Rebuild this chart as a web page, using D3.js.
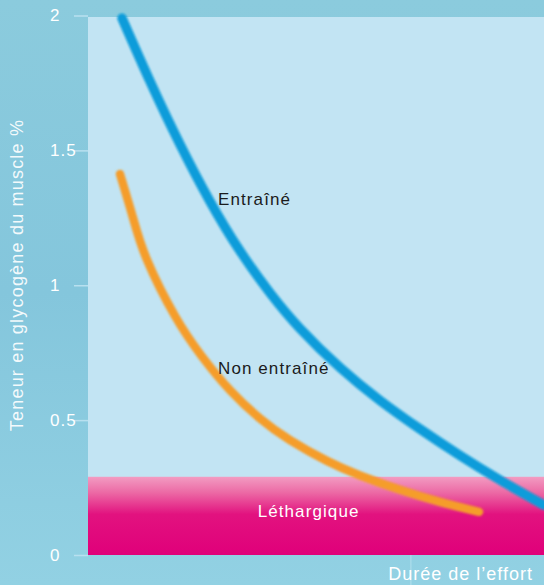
<!DOCTYPE html>
<html>
<head>
<meta charset="utf-8">
<script src="https://cdn.jsdelivr.net/npm/d3@7"></script>
<style>
  html, body { margin: 0; padding: 0; background: #8dcce0; }
  svg { display: block; }
  text { font-family: "Liberation Sans", Arial, sans-serif; }
</style>
</head>
<body>
<svg id="chart" width="544" height="585"></svg>
<script>
// Effort duration (relative units) and muscle glycogen content (%)
const durationTrained   = [7.46, 13.6, 20.18, 26.75, 33.33, 39.91, 46.49, 55.26, 64.04, 72.81, 81.58, 90.35, 100];
const glycogenTrained   = [1.99, 1.756, 1.522, 1.311, 1.127, 0.972, 0.840, 0.695, 0.573, 0.467, 0.369, 0.278, 0.185];
const durationUntrained = [7.02, 9.87, 12.94, 19.08, 25.0, 31.14, 37.72, 44.3, 52.41, 59.65, 68.42, 77.19, 85.75];
const glycogenUntrained = [1.412, 1.250, 1.094, 0.886, 0.736, 0.611, 0.506, 0.426, 0.349, 0.295, 0.242, 0.197, 0.160];
const lethargyThreshold = 0.29;
const yTicks = [0, 0.5, 1, 1.5, 2];
const yTickLabels = ["0", "0.5", "1", "1.5", "2"];
const seriesNames = ["Entraîné", "Non entraîné"];
const zoneName = "Léthargique";
const xTitle = "Durée de l’effort";
const yTitle = "Teneur en glycogène du muscle %";

const svg = d3.select("#chart");
const W = 544, H = 585;
const mLeft = 88, mRight = 544, mTop = 17, mBottom = 555;

const x = d3.scaleLinear().domain([0, 100]).range([mLeft, mRight]);
const y = d3.scaleLinear().domain([0, 2]).range([mBottom, 15.5]);

const defs = svg.append("defs");
const bg = defs.append("linearGradient").attr("id", "bg").attr("x1", 0).attr("x2", 0).attr("y1", 0).attr("y2", 1);
bg.append("stop").attr("offset", "0%").attr("stop-color", "#8bcbdd");
bg.append("stop").attr("offset", "50%").attr("stop-color", "#84c6dc");
bg.append("stop").attr("offset", "100%").attr("stop-color", "#92d1e3");

const pink = defs.append("linearGradient").attr("id", "pink").attr("x1", 0).attr("x2", 0).attr("y1", 0).attr("y2", 1);
pink.append("stop").attr("offset", "0%").attr("stop-color", "#f29cc2");
pink.append("stop").attr("offset", "20%").attr("stop-color", "#ec6aa5");
pink.append("stop").attr("offset", "48%").attr("stop-color", "#e2127f");
pink.append("stop").attr("offset", "100%").attr("stop-color", "#e0007a");

const soft = defs.append("filter").attr("id", "soft").attr("x", "-5%").attr("y", "-5%").attr("width", "110%").attr("height", "110%");
soft.append("feGaussianBlur").attr("stdDeviation", 0.8);

defs.append("clipPath").attr("id", "clip")
  .append("rect").attr("x", mLeft).attr("y", 0).attr("width", mRight - mLeft).attr("height", mBottom);

// outer frame
svg.append("rect").attr("width", W).attr("height", H).attr("fill", "url(#bg)");

// plotting area
svg.append("rect")
  .attr("x", mLeft).attr("y", mTop)
  .attr("width", mRight - mLeft).attr("height", mBottom - mTop)
  .attr("fill", "#c2e4f3");

// lethargy zone
svg.append("rect")
  .attr("x", x(0)).attr("y", y(lethargyThreshold))
  .attr("width", x(100) - x(0)).attr("height", y(0) - y(lethargyThreshold))
  .attr("fill", "url(#pink)");

svg.append("text")
  .attr("x", x(37.2)).attr("y", 517)
  .attr("fill", "#ffffff")
  .attr("font-size", 17).attr("letter-spacing", 1.1)
  .text(zoneName);

// y axis
const yAxis = d3.axisLeft(y)
  .tickValues(yTicks)
  .tickFormat((d, i) => yTickLabels[i])
  .tickSize(14)
  .tickPadding(0);

const gy = svg.append("g").attr("transform", `translate(${mLeft},0)`).call(yAxis);
gy.select(".domain").remove();
gy.selectAll(".tick line").attr("stroke", "#b8e0ef").attr("stroke-width", 1.5);
gy.selectAll(".tick text")
  .attr("x", 50 - mLeft).attr("dy", "0.3em")
  .attr("text-anchor", "start")
  .attr("fill", "#ffffff")
  .attr("font-size", 17).attr("letter-spacing", 1)
  .style("font-family", "'Liberation Sans', Arial, sans-serif");

svg.append("text")
  .attr("transform", "translate(23,275) rotate(-90)")
  .attr("text-anchor", "middle")
  .attr("fill", "#ffffff").attr("fill-opacity", 0.92)
  .attr("font-size", 18).attr("letter-spacing", 1.2)
  .text(yTitle);

// x axis title
svg.append("line")
  .attr("x1", x(70.8)).attr("x2", x(70.8))
  .attr("y1", mBottom).attr("y2", H)
  .attr("stroke", "#b6e1ee").attr("stroke-width", 1.5).attr("opacity", 0.6);

svg.append("text")
  .attr("x", 533).attr("y", 580)
  .attr("text-anchor", "end")
  .attr("fill", "#ffffff")
  .attr("font-size", 18).attr("letter-spacing", 1)
  .text(xTitle);

// curves
const line = d3.line()
  .x(d => x(d[0]))
  .y(d => y(d[1]))
  .curve(d3.curveNatural);

const curves = svg.append("g").attr("clip-path", "url(#clip)");

curves.append("path")
  .datum(d3.zip(durationUntrained, glycogenUntrained))
  .attr("d", line)
  .attr("fill", "none")
  .attr("stroke", "#f59d2a")
  .attr("stroke-width", 8.5)
  .attr("stroke-linecap", "round")
  .attr("filter", "url(#soft)");

curves.append("path")
  .datum(d3.zip(durationTrained, glycogenTrained))
  .attr("d", line)
  .attr("fill", "none")
  .attr("stroke", "#0b9cda")
  .attr("stroke-width", 9.5)
  .attr("stroke-linecap", "round")
  .attr("filter", "url(#soft)");

// series labels
svg.append("text")
  .attr("x", 218).attr("y", 205)
  .attr("fill", "#1b1b1b")
  .attr("font-size", 17).attr("letter-spacing", 1.1)
  .text(seriesNames[0]);

svg.append("text")
  .attr("x", 218).attr("y", 374)
  .attr("fill", "#1b1b1b")
  .attr("font-size", 17).attr("letter-spacing", 1.1)
  .text(seriesNames[1]);
</script>
</body>
</html>
